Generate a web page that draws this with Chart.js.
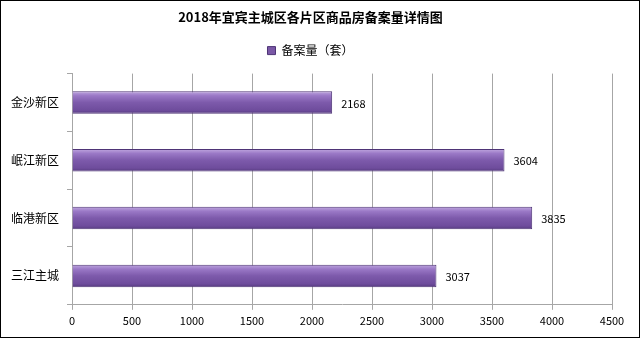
<!DOCTYPE html>
<html>
<head>
<meta charset="utf-8">
<script src="https://cdn.jsdelivr.net/npm/chart.js@4/dist/chart.umd.min.js"></script>
<style>
  html, body { margin: 0; padding: 0; background: #fff; }
  #wrap { width: 640px; height: 338px; box-sizing: border-box; border: 1px solid #000; position: relative; }
</style>
</head>
<body>
<div id="wrap"><canvas id="cnv" width="638" height="336"></canvas></div>
<script>
const categories = ['金沙新区', '岷江新区', '临港新区', '三江主城']
const values = [2168, 3604, 3835, 3037]
const seriesName = '备案量（套）'
const xTicks = [0, 500, 1000, 1500, 2000, 2500, 3000, 3500, 4000, 4500]

const font = '"Microsoft YaHei", "Noto Sans CJK SC", sans-serif'
const barPct = 0.39

function barFill(context){
    let chart = context.chart
    let ys = chart.scales && chart.scales.y
    if (!ys || !chart.chartArea) return '#7a58a6'
    let center = ys.getPixelForValue(context.dataIndex)
    let half = (ys.height / categories.length) * barPct / 2
    let g = chart.ctx.createLinearGradient(0, center - half, 0, center + half)
    g.addColorStop(0, '#c0a8e0')
    g.addColorStop(0.2, '#9a78c6')
    g.addColorStop(0.5, '#7d5aab')
    g.addColorStop(0.85, '#6e4c9c')
    g.addColorStop(1, '#553a7e')
    return g
}

// a bit more room below the legend
const legendGap = {
    id: 'legendGap',
    beforeLayout(chart){
        let lg = chart.legend
        if (lg && !lg._gapped) {
            let fit = lg.fit.bind(lg)
            lg.fit = function(){ fit(); this.height += 7 }
            lg._gapped = true
        }
    }
}

const valueLabels = {
    id: 'valueLabels',
    afterDatasetsDraw(chart){
        let ctx = chart.ctx
        ctx.save()
        ctx.font = '11px ' + font
        ctx.fillStyle = '#000'
        ctx.textBaseline = 'middle'
        chart.getDatasetMeta(0).data.forEach((bar, i) => {
            ctx.fillText(values[i], bar.x + 9, bar.y + 1)
        })
        ctx.restore()
    }
}

new Chart(document.getElementById('cnv'), {
    type: 'bar',
    data: {
        labels: categories,
        datasets: [{
            label: seriesName,
            data: values,
            backgroundColor: barFill,
            borderColor: '#4e3476',
            borderWidth: 1,
            borderSkipped: 'start',
            categoryPercentage: 1,
            barPercentage: barPct
        }]
    },
    options: {
        indexAxis: 'y',
        responsive: false,
        animation: false,
        layout: { padding: { left: 8, right: 27, top: 0, bottom: 6 } },
        plugins: {
            title: {
                display: true,
                text: '2018年宜宾主城区各片区商品房备案量详情图',
                color: '#000',
                font: { family: font, size: 13, weight: 'bold' },
                padding: { top: 8, bottom: 2 }
            },
            legend: {
                display: true,
                labels: {
                    color: '#000',
                    font: { family: font, size: 12 },
                    boxWidth: 8,
                    boxHeight: 8,
                    padding: 18,
                    generateLabels: () => [{
                        text: seriesName,
                        fillStyle: '#7a58a6',
                        strokeStyle: '#4e3476',
                        lineWidth: 1,
                        fontColor: '#000'
                    }]
                }
            },
            tooltip: { enabled: false }
        },
        scales: {
            x: {
                min: 0,
                max: 4500,
                afterBuildTicks: (axis) => { axis.ticks = xTicks.map(v => ({ value: v })) },
                grid: { color: '#a6a6a6', drawTicks: true, tickLength: 5 },
                border: { color: '#a6a6a6' },
                ticks: { color: '#000', font: { family: font, size: 11 }, padding: 4, callback: (v) => String(v) }
            },
            y: {
                afterFit: (axis) => { axis.width = 63 },
                grid: { display: true, drawOnChartArea: false, offset: true, color: '#a6a6a6', tickLength: 5 },
                border: { color: '#a6a6a6' },
                ticks: { color: '#000', font: { family: font, size: 12 }, padding: 8 }
            }
        }
    },
    plugins: [legendGap, valueLabels]
})
</script>
</body>
</html>
